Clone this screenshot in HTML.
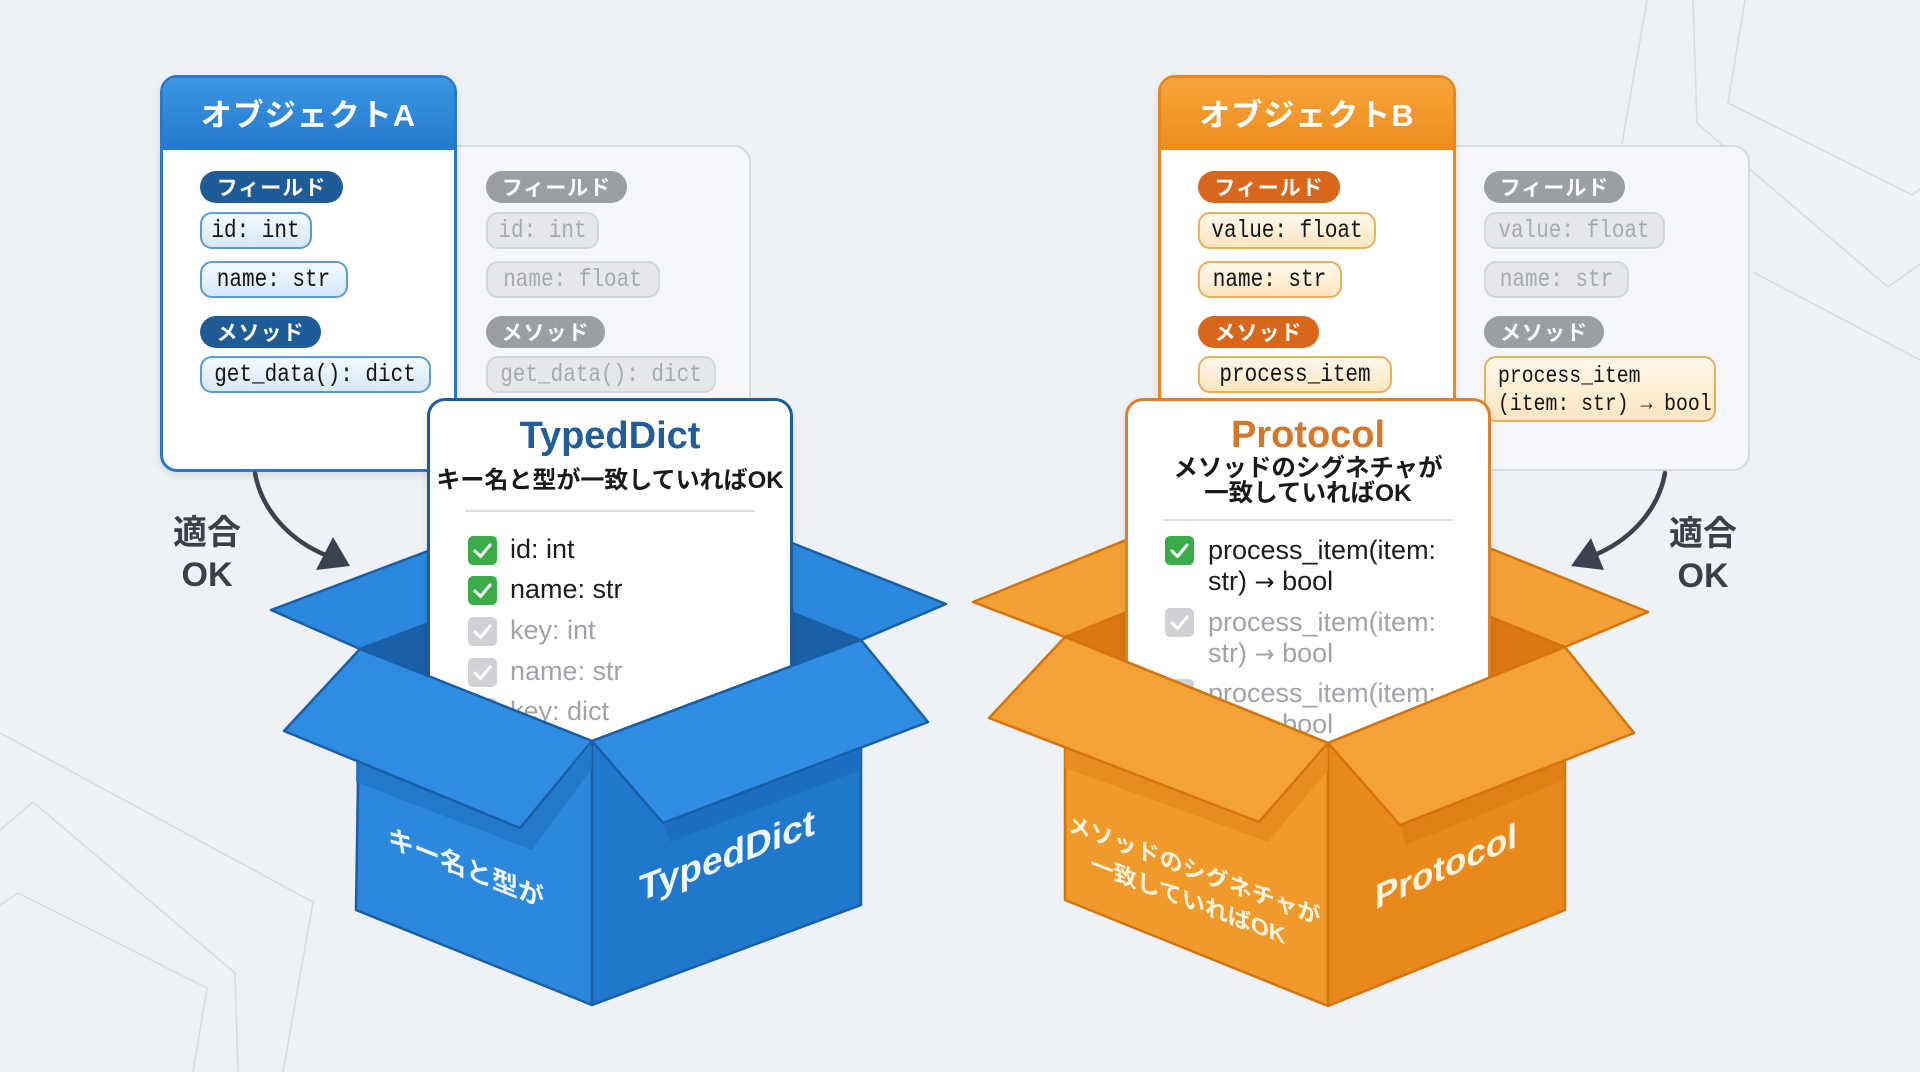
<!DOCTYPE html>
<html><head><meta charset="utf-8">
<style>
*{margin:0;padding:0;box-sizing:border-box}
body{width:1920px;height:1072px;overflow:hidden;background:#eef1f5;position:relative;font-family:"Liberation Sans","Noto Sans CJK JP",sans-serif}
.abs{position:absolute}
svg.layer{position:absolute;left:0;top:0}
.card{position:absolute;border-radius:17px;overflow:hidden}
.ghost{background:#f4f6f9;border:2px solid #d4dae1}
.hdr{position:absolute;left:0;top:0;right:0;height:72px;display:flex;align-items:center;justify-content:center;color:#fff;font-family:"Liberation Sans","Noto Sans CJK JP",sans-serif;font-weight:700;font-size:31px;letter-spacing:1px}
.lab{position:absolute;height:32px;border-radius:16px;color:#fff;font-family:"Liberation Sans","Noto Sans CJK JP",sans-serif;font-weight:700;font-size:21px;display:flex;align-items:center;justify-content:center;letter-spacing:1px}
.pill{position:absolute;height:37px;border-radius:12px;display:flex;align-items:center;justify-content:center;font-family:"Liberation Mono","DejaVu Sans Mono",monospace;font-size:25px;white-space:nowrap}
.pill span{display:inline-block;transform:scaleX(.84);transform-origin:center}
.pa{background:linear-gradient(#f4f9fe,#d5e8f8);border:2px solid #5c9bd3;color:#141414}
.pg{background:#e5e7ea;border:2px solid #d3d6da;color:#a6aaaf}
.pb{background:linear-gradient(#fff8ec,#fde5c0);border:2px solid #e8b05c;color:#141414}
.la{background:#1f5b97}
.lg{background:#9b9fa4}
.lb{background:#d8661b}
.tcard{position:absolute;background:#fff;border-radius:18px;width:366px;height:380px;top:398px;box-shadow:0 3px 8px rgba(0,0,0,.10)}
.ttl{position:absolute;text-align:center;font-weight:700;font-size:38px;line-height:44px;font-family:"Liberation Sans","Noto Sans CJK JP",sans-serif}
.sub{position:absolute;text-align:center;font-weight:700;font-size:24px;color:#1a1a1a;font-family:"Liberation Sans","Noto Sans CJK JP",sans-serif;white-space:nowrap}
.item{position:absolute;font-size:27px;line-height:31px;color:#1c1c1c;white-space:nowrap;font-family:"Liberation Sans","Noto Sans CJK JP",sans-serif}
.arr{font-family:"DejaVu Sans",sans-serif;font-size:24px}
.gray{color:#a0a3a7}
.ok{position:absolute;text-align:center;color:#3b4048;font-weight:700;font-size:34px;line-height:42px;font-family:"Liberation Sans","Noto Sans CJK JP",sans-serif}
.two{position:absolute;border-radius:12px;font-family:"Liberation Mono","DejaVu Sans Mono",monospace;font-size:23px;line-height:28px;white-space:nowrap;padding:4px 0 0 12px}
.two div{transform:scaleX(.86);transform-origin:left center}
</style></head><body>

<!-- background lines -->
<svg class="layer" width="1920" height="1072" style="z-index:0">
<g fill="none" stroke="#d8dde3" stroke-width="1.6">
<polyline points="1647,0 1622,144"/>
<polyline points="1693,0 1697,123 1753,172 1888,287 1920,264"/>
<polyline points="1745,0 1728,103 1912,195 1920,189"/>
<polyline points="1753,272 1920,360"/>
<polyline points="0,733 313,902 283,1072"/>
<polyline points="0,830 33,802 235,973 238,1072"/>
<polyline points="0,905 18,893 207,988 193,1072"/>
</g>
</svg>

<!-- ghost cards -->
<div class="card ghost" style="left:440px;top:145px;width:311px;height:326px;z-index:1"></div>
<div class="card ghost" style="left:1440px;top:145px;width:310px;height:326px;z-index:1"></div>

<!-- ghost A content -->
<div style="position:absolute;left:0;top:0;z-index:2">
<div class="lab lg" style="left:486px;top:171px;width:141px">フィールド</div>
<div class="pill pg" style="left:486px;top:212px;width:113px"><span>id: int</span></div>
<div class="pill pg" style="left:486px;top:261px;width:174px"><span>name: float</span></div>
<div class="lab lg" style="left:486px;top:316px;width:119px">メソッド</div>
<div class="pill pg" style="left:486px;top:356px;width:230px"><span>get_data(): dict</span></div>
</div>
<!-- ghost B content -->
<div style="position:absolute;left:0;top:0;z-index:2">
<div class="lab lg" style="left:1484px;top:171px;width:141px">フィールド</div>
<div class="pill pg" style="left:1484px;top:212px;width:181px"><span>value: float</span></div>
<div class="pill pg" style="left:1484px;top:261px;width:145px"><span>name: str</span></div>
<div class="lab lg" style="left:1484px;top:316px;width:120px">メソッド</div>
<div class="two pb" style="left:1484px;top:356px;width:232px;height:66px">
<div>process_item</div><div>(item: str) → bool</div></div>
</div>

<!-- object A card -->
<div class="card" style="left:160px;top:75px;width:297px;height:397px;background:#fff;border:3px solid #2a79c9;z-index:3;box-shadow:0 3px 8px rgba(0,0,0,.10)">
<div class="hdr" style="background:linear-gradient(#3c97e4,#2479cd);top:-3px;left:-3px;right:-3px;height:75px">オブジェクトA</div>
</div>
<div style="position:absolute;left:0;top:0;z-index:4">
<div class="lab la" style="left:200px;top:171px;width:143px">フィールド</div>
<div class="pill pa" style="left:200px;top:212px;width:112px"><span>id: int</span></div>
<div class="pill pa" style="left:200px;top:261px;width:148px"><span>name: str</span></div>
<div class="lab la" style="left:200px;top:316px;width:121px">メソッド</div>
<div class="pill pa" style="left:200px;top:356px;width:231px"><span>get_data(): dict</span></div>
</div>

<!-- object B card -->
<div class="card" style="left:1158px;top:75px;width:298px;height:397px;background:#fff;border:3px solid #e8871e;z-index:3;box-shadow:0 3px 8px rgba(0,0,0,.10)">
<div class="hdr" style="background:linear-gradient(#f7a63c,#ee8c1e);top:-3px;left:-3px;right:-3px;height:75px">オブジェクトB</div>
</div>
<div style="position:absolute;left:0;top:0;z-index:4">
<div class="lab lb" style="left:1198px;top:171px;width:142px">フィールド</div>
<div class="pill pb" style="left:1198px;top:212px;width:178px"><span>value: float</span></div>
<div class="pill pb" style="left:1198px;top:261px;width:144px"><span>name: str</span></div>
<div class="lab lb" style="left:1198px;top:316px;width:121px">メソッド</div>
<div class="pill pb" style="left:1198px;top:356px;width:194px"><span>process_item</span></div>
</div>

<!-- arrows -->
<svg class="layer" width="1920" height="1072" style="z-index:5">
<g fill="none" stroke="#3b4350" stroke-width="4.5" stroke-linecap="round">
<path d="M255 473 C262 512, 292 542, 328 556"/>
<path d="M1665 473 C1658 512, 1628 542, 1592 556"/>
</g>
<polygon points="350,566 316,570 333,537" fill="#3b4350"/>
<polygon points="1571,566 1604,570 1591,538" fill="#3b4350"/>
</svg>

<!-- back of boxes -->
<svg class="layer" width="1920" height="1072" style="z-index:6">
<g stroke="#1a5ea6" stroke-width="2.5" stroke-linejoin="round">
<polygon points="360,649 629,548 861,640 592,741" fill="#1a60a8"/>
<polygon points="360,649 271,610 540,509 629,548" fill="#2b88de"/>
<polygon points="861,640 946,604 714,512 629,548" fill="#2b88de"/>
</g>
<g stroke="#d5730f" stroke-width="2.5" stroke-linejoin="round">
<polygon points="1065,637 1302,541 1565,647 1328,743" fill="#dc7813"/>
<polygon points="1065,637 973,602 1210,506 1302,541" fill="#f3a135"/>
<polygon points="1565,647 1648,612 1385,506 1302,541" fill="#f3a135"/>
</g>
</svg>

<!-- TypedDict card -->
<div class="tcard" style="left:427px;border:3px solid #1f5b96;z-index:7"></div>
<div style="position:absolute;left:0;top:0;z-index:8">
<div class="ttl" style="left:427px;width:366px;top:414px;color:#1f5d9c">TypedDict</div>
<div class="sub" style="left:427px;width:366px;top:466px;line-height:30px">キー名と型が一致していればOK</div>
<div class="abs" style="left:465px;top:510px;width:290px;height:2px;background:#dcdfe3"></div>
<svg class="abs" style="left:468px;top:536px" width="29" height="29"><rect width="29" height="29" rx="5" fill="#3aad48"/><path d="M7 15 L12.5 20.5 L22 9" fill="none" stroke="#fff" stroke-width="3" stroke-linecap="round" stroke-linejoin="round"/></svg>
<div class="item" style="left:510px;top:534px">id: int</div>
<svg class="abs" style="left:468px;top:576px" width="29" height="29"><rect width="29" height="29" rx="5" fill="#3aad48"/><path d="M7 15 L12.5 20.5 L22 9" fill="none" stroke="#fff" stroke-width="3" stroke-linecap="round" stroke-linejoin="round"/></svg>
<div class="item" style="left:510px;top:574px">name: str</div>
<svg class="abs" style="left:468px;top:617px" width="29" height="29"><rect width="29" height="29" rx="5" fill="#cfd1d4"/><path d="M7 15 L12.5 20.5 L22 9" fill="none" stroke="#fff" stroke-width="3" stroke-linecap="round" stroke-linejoin="round"/></svg>
<div class="item gray" style="left:510px;top:615px">key: int</div>
<svg class="abs" style="left:468px;top:658px" width="29" height="29"><rect width="29" height="29" rx="5" fill="#cfd1d4"/><path d="M7 15 L12.5 20.5 L22 9" fill="none" stroke="#fff" stroke-width="3" stroke-linecap="round" stroke-linejoin="round"/></svg>
<div class="item gray" style="left:510px;top:656px">name: str</div>
<svg class="abs" style="left:468px;top:698px" width="29" height="29"><rect width="29" height="29" rx="5" fill="#cfd1d4"/></svg>
<div class="item gray" style="left:510px;top:696px">key: dict</div>
</div>

<!-- Protocol card -->
<div class="tcard" style="left:1125px;border:3px solid #da822a;z-index:7"></div>
<div style="position:absolute;left:0;top:0;z-index:8">
<div class="ttl" style="left:1125px;width:366px;top:413px;color:#d4772a">Protocol</div>
<div class="sub" style="left:1125px;width:366px;top:456px;line-height:25px;font-size:24.5px">メソッドのシグネチャが<br>一致していればOK</div>
<div class="abs" style="left:1163px;top:519px;width:290px;height:2px;background:#dcdfe3"></div>
<svg class="abs" style="left:1165px;top:536px" width="29" height="29"><rect width="29" height="29" rx="5" fill="#3aad48"/><path d="M7 15 L12.5 20.5 L22 9" fill="none" stroke="#fff" stroke-width="3" stroke-linecap="round" stroke-linejoin="round"/></svg>
<div class="item" style="left:1208px;top:535px">process_item(item:<br>str) <span class="arr">→</span> bool</div>
<svg class="abs" style="left:1165px;top:608px" width="29" height="29"><rect width="29" height="29" rx="5" fill="#cfd1d4"/><path d="M7 15 L12.5 20.5 L22 9" fill="none" stroke="#fff" stroke-width="3" stroke-linecap="round" stroke-linejoin="round"/></svg>
<div class="item gray" style="left:1208px;top:607px">process_item(item:<br>str) <span class="arr">→</span> bool</div>
<svg class="abs" style="left:1165px;top:679px" width="29" height="29"><rect width="29" height="29" rx="5" fill="#cfd1d4"/></svg>
<div class="item gray" style="left:1208px;top:678px">process_item(item:<br>str) <span class="arr">→</span> bool</div>
</div>

<!-- front of boxes -->
<svg class="layer" width="1920" height="1072" style="z-index:9">
<g stroke="#1a5ea6" stroke-width="2.5" stroke-linejoin="round">
<polygon points="360,649 592,741 592,1005 356,910" fill="#2c88dd"/>
<polygon points="592,741 861,640 861,905 592,1005" fill="#1f78cc"/>
</g>
<polygon points="356,761 520,828 592,745 592,768 532,850 356,782" fill="#2174c4" opacity="0.8"/>
<polygon points="663,823 861,750 861,770 670,842" fill="#1a6cbd" opacity="0.8"/>
<g stroke="#1a5ea6" stroke-width="2.5" stroke-linejoin="round">
<polygon points="360,649 284,731 520,828 592,741" fill="#2e8ce2"/>
<polygon points="592,741 663,823 928,722 861,640" fill="#2f8de2"/>
</g>
<text transform="translate(466,877) skewY(21.6)" text-anchor="middle" font-family="Liberation Sans, Noto Sans CJK JP, sans-serif" font-size="26" font-weight="700" fill="#eef6fd">キー名と型が</text>
<text transform="translate(727,868) skewY(-21)" text-anchor="middle" font-family="Liberation Sans, Noto Sans CJK JP, sans-serif" font-size="37" font-weight="700" fill="#eef6fd">TypedDict</text>

<g stroke="#d5730f" stroke-width="2.5" stroke-linejoin="round">
<polygon points="1065,637 1328,743 1328,1006 1065,900" fill="#f09a2b"/>
<polygon points="1328,743 1565,647 1565,910 1328,1006" fill="#e9891b"/>
</g>
<polygon points="1065,748 1259,822 1328,747 1328,770 1268,842 1065,768" fill="#e48a20" opacity="0.8"/>
<polygon points="1400,825 1565,760 1565,780 1406,845" fill="#dd7d14" opacity="0.8"/>
<g stroke="#d5730f" stroke-width="2.5" stroke-linejoin="round">
<polygon points="1065,637 989,718 1259,822 1328,743" fill="#f3a237"/>
<polygon points="1328,743 1400,825 1634,733 1565,647" fill="#f3a237"/>
</g>
<g transform="translate(1194,886) skewY(20.5)" font-family="Liberation Sans, Noto Sans CJK JP, sans-serif" font-size="23" font-weight="700" fill="#fff3df" text-anchor="middle">
<text x="0" y="-8">メソッドのシグネチャが</text>
<text x="-6" y="24">一致していればOK</text>
</g>
<text transform="translate(1446,878) skewY(-24)" text-anchor="middle" font-family="Liberation Sans, Noto Sans CJK JP, sans-serif" font-size="35" font-weight="700" fill="#fff3df">Protocol</text>
</svg>

<!-- labels -->
<div class="ok" style="left:147px;width:120px;top:512px;z-index:10">適合<br>OK</div>
<div class="ok" style="left:1643px;width:120px;top:513px;z-index:10">適合<br>OK</div>

</body></html>
